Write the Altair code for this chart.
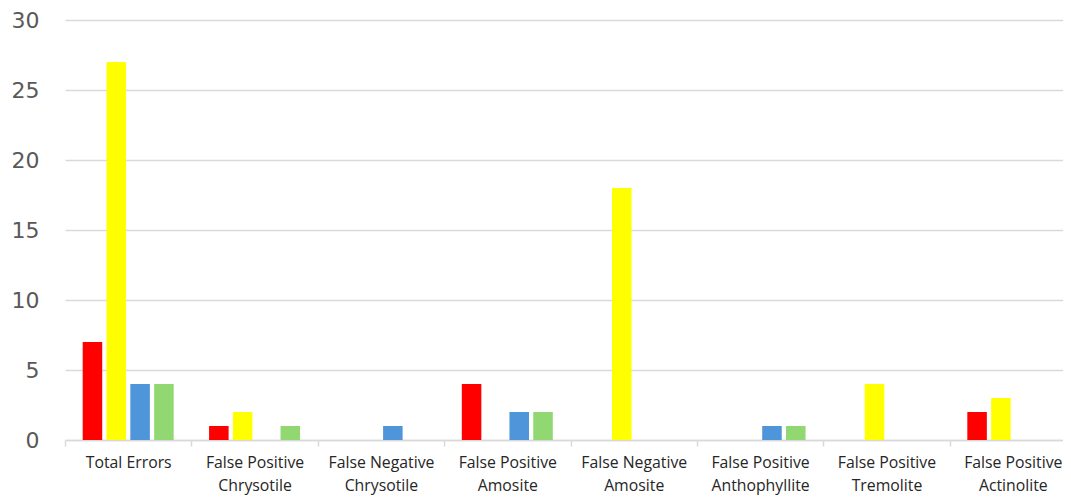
import altair as alt
import pandas as pd

categories = [
    "Total Errors",
    "False Positive Chrysotile",
    "False Negative Chrysotile",
    "False Positive Amosite",
    "False Negative Amosite",
    "False Positive Anthophyllite",
    "False Positive Tremolite",
    "False Positive Actinolite",
]
series_names = ["Series 1", "Series 2", "Series 3", "Series 4"]
series_colors = ["#FF0000", "#FFFF00", "#4E95D9", "#92D872"]

s1 = [7, 1, 0, 4, 0, 0, 0, 2]
s2 = [27, 2, 0, 0, 18, 0, 4, 3]
s3 = [4, 0, 1, 2, 0, 1, 0, 0]
s4 = [4, 1, 0, 2, 0, 1, 0, 0]

rows = []
for name, vals in zip(series_names, [s1, s2, s3, s4]):
    for c, v in zip(categories, vals):
        rows.append({"category": c, "series": name, "value": v})
df = pd.DataFrame(rows)

XFONT = "Open Sans"
YFONT = "DejaVu Sans"
FULL_W = 1011
HALF_STEP = FULL_W / 8 / 2

chart = alt.Chart(df).mark_bar().encode(
    x=alt.X(
        "category:N",
        sort=categories,
        title=None,
        scale=alt.Scale(paddingInner=0.28, paddingOuter=0.14, range=[0, FULL_W]),
        axis=alt.Axis(
            labelAngle=0,
            labelFont=XFONT,
            labelFontSize=15.8,
            labelColor="#262626",
            labelPadding=9,
            labelLineHeight=23,
            labelExpr="datum.value == 'Total Errors' ? datum.label : [slice(datum.label, 0, 14), slice(datum.label, 15)]",
            domainColor="#d9d9d9",
            domainWidth=1.5,
            tickColor="#d9d9d9",
            tickWidth=1.5,
            tickSize=6,
            tickOffset=-HALF_STEP,
            labelOffset=HALF_STEP,
            grid=False,
        ),
    ),
    xOffset=alt.XOffset(
        "series:N",
        sort=series_names,
        scale=alt.Scale(paddingInner=0.18, paddingOuter=0),
    ),
    y=alt.Y(
        "value:Q",
        title=None,
        scale=alt.Scale(domain=[0, 30], nice=False),
        axis=alt.Axis(
            values=[0, 5, 10, 15, 20, 25, 30],
            labelFont=YFONT,
            labelFontSize=22,
            labelColor="#595959",
            labelPadding=26,
            domain=False,
            ticks=False,
            gridColor="#d9d9d9",
            gridWidth=1.5,
        ),
    ),
    color=alt.Color(
        "series:N",
        sort=series_names,
        scale=alt.Scale(domain=series_names, range=series_colors),
        legend=None,
    ),
).properties(
    width=998,
    height=420,
    autosize=alt.AutoSizeParams(type="none"),
    padding={"left": 57, "top": 12, "right": 0, "bottom": 58},
).configure_view(stroke=None)

chart.save("out.html", embed_options={"renderer": "svg", "actions": False})
